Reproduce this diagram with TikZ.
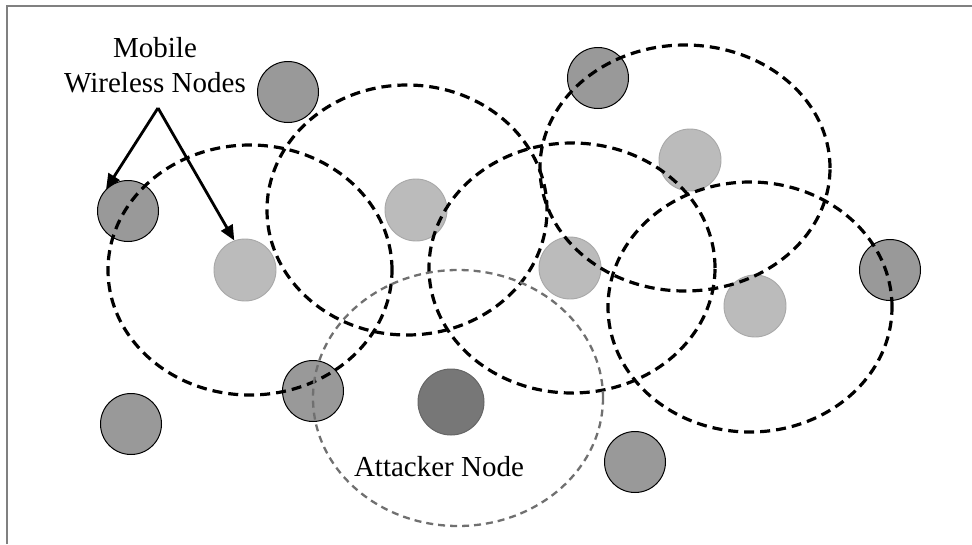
\documentclass[tikz,border=0pt]{standalone}
\usepackage{fontspec}
\setmainfont{Liberation Serif}
\usetikzlibrary{arrows.meta}
\definecolor{darknode}{HTML}{999999}
\definecolor{lightnode}{HTML}{BBBBBB}
\definecolor{lightedge}{HTML}{A8A8A8}
\definecolor{attnode}{HTML}{777777}
\definecolor{attedge}{HTML}{666666}
\definecolor{attring}{HTML}{707070}
\definecolor{framegray}{HTML}{808080}
\tikzset{
  darkn/.style={circle, minimum size=61pt, inner sep=0pt, fill=darknode, draw=black, line width=1pt},
  lightn/.style={circle, minimum size=62pt, inner sep=0pt, fill=lightnode, draw=lightedge, line width=0.9pt},
  attn/.style={circle, minimum size=66pt, inner sep=0pt, fill=attnode, draw=attedge, line width=1pt},
  ring/.style={draw=black, line width=3.2pt, dash pattern=on 10pt off 6pt},
  attring/.style={draw=attring, line width=2.3pt, dash pattern=on 7pt off 5pt},
  lbl/.style={font=\fontsize{29}{35}\selectfont, inner sep=0pt, align=center},
  pointer/.style={line width=2.8pt, -{Triangle[length=15pt,width=13pt]}},
}
\begin{document}
\begin{tikzpicture}[x=1pt,y=-1pt]
\useasboundingbox (0,0) rectangle (972,544);
\fill[white] (0,0) rectangle (972,544);
% frame
\draw[framegray, line width=2pt] (7,544) -- (7,6) -- (972,6);
% nodes
\node[darkn] (A) at (288,92) {};
\node[darkn] (B) at (128,211) {};
\node[darkn] (C) at (598,78) {};
\node[darkn] (D) at (890,270) {};
\node[darkn] (E) at (131,424) {};
\node[darkn] (F) at (313,391) {};
\node[darkn] (G) at (635,462) {};
\node[lightn] (I) at (245,270) {};
\node[lightn] (J) at (416,210) {};
\node[lightn] (K) at (690,160) {};
\node[lightn] (L) at (570,268) {};
\node[lightn] (M) at (755,306) {};
\node[attn] (H) at (451,402) {};
% range circles
\draw[ring] (250,270) ellipse [x radius=142pt, y radius=125pt];
\draw[ring] (407,210) ellipse [x radius=140pt, y radius=125pt];
\draw[ring] (572,268) ellipse [x radius=143pt, y radius=125pt];
\draw[ring] (685,168) ellipse [x radius=145pt, y radius=123pt];
\draw[ring] (750,307) ellipse [x radius=142pt, y radius=125pt];
\draw[attring] (458,398) ellipse [x radius=145pt, y radius=128pt];
% labels
\node[lbl] (mwn) at (155,65) {Mobile\\Wireless Nodes};
\node[lbl] (att) at (439,467) {Attacker Node};
\coordinate (apex) at (158,108);
\draw[pointer] (apex) -- (B.135);
\draw[pointer] (apex) -- (I.110);
\end{tikzpicture}
\end{document}
